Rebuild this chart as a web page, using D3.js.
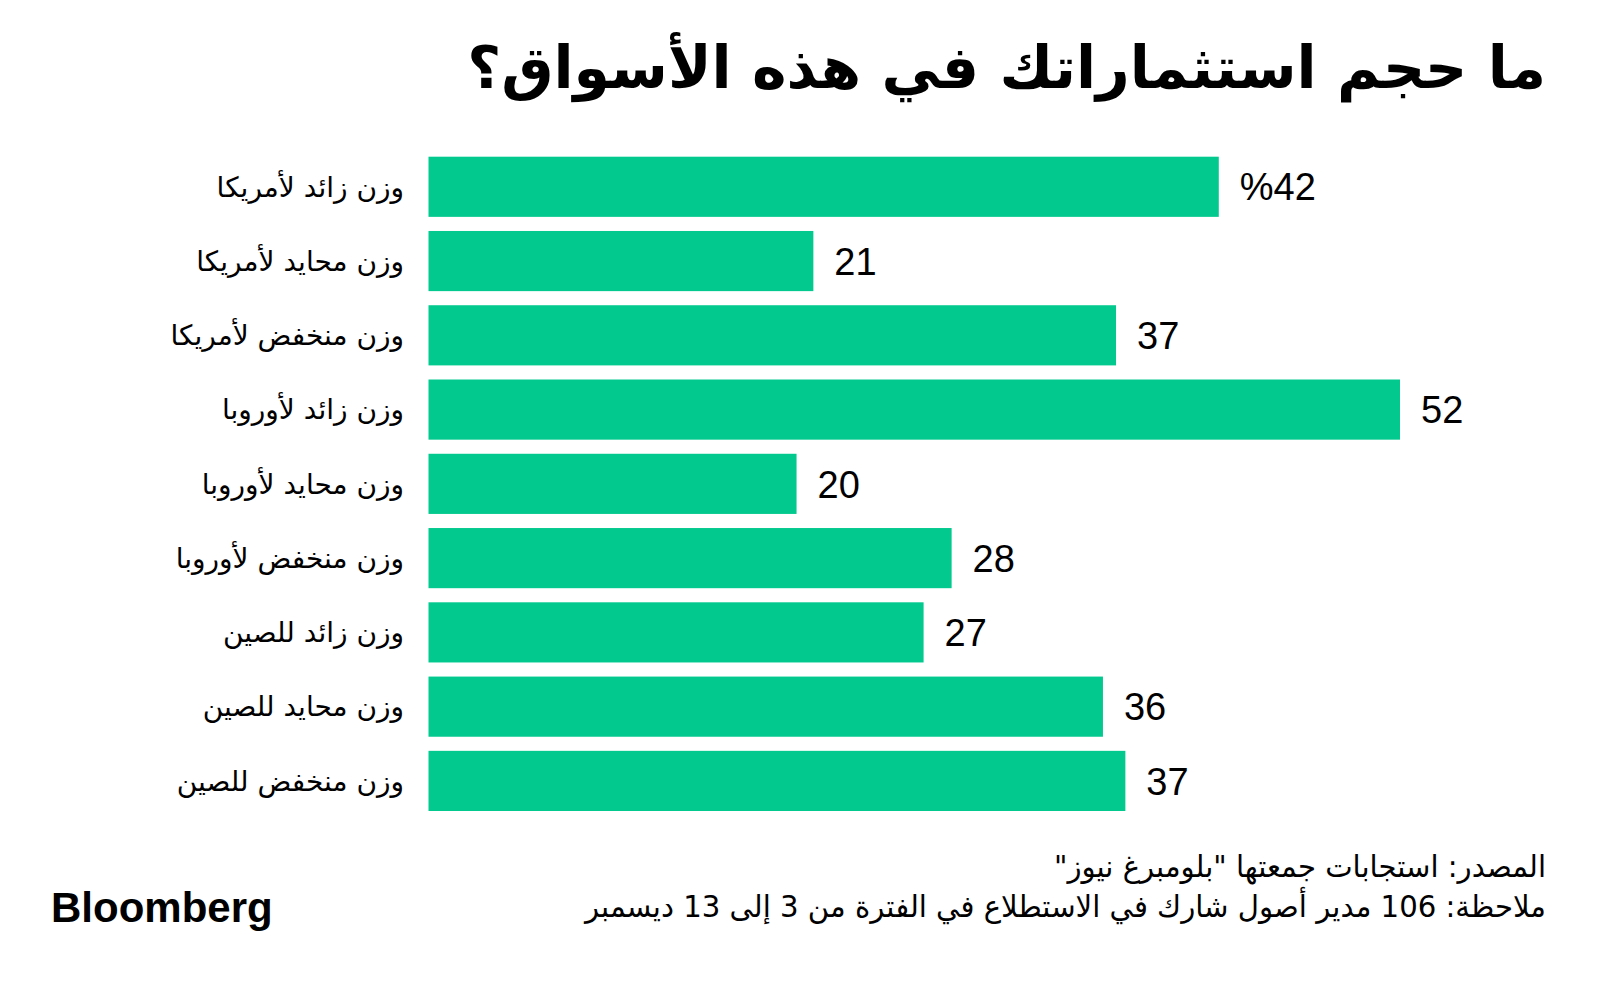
<!DOCTYPE html>
<html><head><meta charset="utf-8">
<script src="https://cdn.jsdelivr.net/npm/d3@7"></script>
<style>
html,body{margin:0;padding:0;background:#fff;}
svg{display:block;}
</style></head>
<body>
<script>
const categories = ["وزن زائد لأمريكا","وزن محايد لأمريكا","وزن منخفض لأمريكا","وزن زائد لأوروبا","وزن محايد لأوروبا","وزن منخفض لأوروبا","وزن زائد للصين","وزن محايد للصين","وزن منخفض للصين"];
const values = [42.3, 20.6, 36.8, 52.0, 19.7, 28.0, 26.5, 36.1, 37.3];
const valueLabels = ["%42","21","37","52","20","28","27","36","37"];
const title = "ما حجم استثماراتك في هذه الأسواق؟";
const sourceText = "المصدر: استجابات جمعتها \"بلومبرغ نيوز\"";
const noteText = "ملاحظة: 106 مدير أصول شارك في الاستطلاع في الفترة من 3 إلى 13 ديسمبر";

const W = 1600, H = 989;
const svg = d3.select("body").append("svg").attr("width", W).attr("height", H);
const arFont = "'DejaVu Sans', 'Noto Sans', sans-serif";
const arCond = "'DejaVu Sans Condensed', 'DejaVu Sans', sans-serif";

const x = d3.scaleLinear().domain([0, 52]).range([428.5, 1400]);
const y = d3.scaleBand().domain(categories).range([156.7, 811]).paddingInner(0.19).paddingOuter(0);

function rtlText(xr, yy, txt, font, size, weight) {
  return svg.append("text").attr("x", xr).attr("y", yy)
    .style("direction", "rtl").attr("text-anchor", "start")
    .style("font-family", font).style("font-weight", weight || "normal")
    .style("font-size", size + "px").attr("fill", "#000").text(txt);
}
function fitWidth(sel, target, size, maxSize) {
  const w = sel.node().getComputedTextLength();
  let s = size * target / w;
  if (maxSize) s = Math.min(s, maxSize);
  sel.style("font-size", s + "px");
}

const t = rtlText(1546, 88, title, arFont, 54, "bold");
fitWidth(t, 1079, 54, 66);

svg.selectAll("rect.bar").data(values).join("rect").attr("class", "bar")
  .attr("x", x(0)).attr("y", (d, i) => y(categories[i]))
  .attr("width", d => x(d) - x(0)).attr("height", y.bandwidth())
  .attr("fill", "#02c98d");

svg.selectAll("text.cat").data(categories).join("text").attr("class", "cat")
  .attr("x", 404).attr("y", d => y(d) + y.bandwidth() / 2)
  .attr("dy", "0.35em").attr("text-anchor", "start").style("direction", "rtl")
  .style("font-family", arFont).style("font-size", "28px").attr("fill", "#000")
  .text(d => d);

svg.selectAll("text.val").data(values).join("text").attr("class", "val")
  .attr("x", d => x(d) + 21).attr("y", (d, i) => y(categories[i]) + y.bandwidth() / 2)
  .attr("dy", "0.36em").style("font-family", "'Liberation Sans', Arial, sans-serif")
  .style("font-size", "38px").attr("fill", "#000")
  .text((d, i) => valueLabels[i]);

const s1 = rtlText(1546, 877, sourceText, arCond, 30);
s1.attr("textLength", 492).attr("lengthAdjust", "spacingAndGlyphs");
const s2 = rtlText(1546, 917, noteText, arCond, 30);
s2.attr("textLength", 961).attr("lengthAdjust", "spacingAndGlyphs");

svg.append("text").attr("x", 51).attr("y", 922)
  .style("font-family", "'Liberation Sans', Arial, sans-serif").style("font-weight", "bold")
  .style("font-size", "42px").style("letter-spacing", "0px").attr("fill", "#000").text("Bloomberg");
</script>
</body></html>
